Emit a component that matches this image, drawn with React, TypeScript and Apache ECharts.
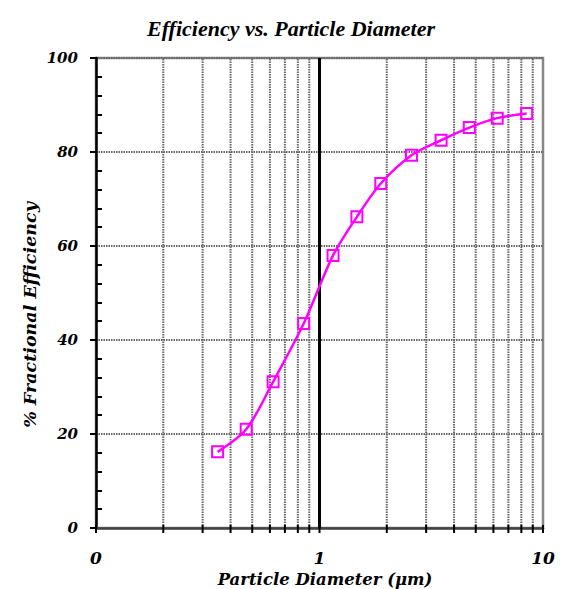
import React, { useEffect, useRef } from "react";
import * as echarts from "echarts";

const diameters = [0.35, 0.47, 0.62, 0.85, 1.15, 1.47, 1.88, 2.58, 3.5, 4.68, 6.24, 8.45];
const efficiency = [16.2, 21.0, 31.1, 43.5, 58.0, 66.2, 73.3, 79.3, 82.5, 85.2, 87.2, 88.2];
const logGridValues = [0.1, 0.2, 0.3, 0.4, 0.5, 0.6, 0.7, 0.8, 0.9, 1, 2, 3, 4, 5, 6, 7, 8, 9, 10];
const xTickLabels: Record<string, string> = { "0.1": "0", "1": "1", "10": "10" };

const TITLE = "Efficiency vs. Particle Diameter";
const X_NAME = "Particle Diameter (\u03bcm)";
const Y_NAME = "% Fractional Efficiency";

export default function App() {
  const ref = useRef<HTMLDivElement>(null);
  useEffect(() => {
    if (!ref.current) return;
    const chart = echarts.init(ref.current, null, { renderer: "svg" });
    const labelFont = "DejaVu Serif";
    chart.setOption({
      animation: false,
      backgroundColor: "#ffffff",
      title: {
        text: TITLE,
        left: 286,
        top: 12,
        textAlign: "center",
        textStyle: {
          fontFamily: "Liberation Serif",
          fontStyle: "italic",
          fontWeight: "bold",
          fontSize: 22,
          color: "#000",
        },
      },
      grid: {
        left: 96,
        right: 26,
        top: 58,
        bottom: 61,
        containLabel: false,
        outerBoundsMode: "none",
        show: true,
        borderColor: "#888",
        borderWidth: 2.5,
        backgroundColor: "transparent",
      },
      xAxis: {
        type: "log",
        logBase: 10,
        min: 0.1,
        max: 10,
        axisLine: { show: true, lineStyle: { color: "#444", width: 2.5 } },
        axisTick: { show: false },
        splitLine: { show: false },
        axisLabel: {
          margin: 21,
          fontFamily: labelFont,
          fontStyle: "italic",
          fontWeight: "bold",
          fontSize: 17,
          color: "#000",
          formatter: (v: number) => xTickLabels[String(v)] ?? "",
        },
      },
      yAxis: [
        {
          type: "value",
          min: 0,
          max: 100,
          interval: 20,
          axisLine: { show: true, lineStyle: { color: "#000", width: 2.5 } },
          axisTick: { show: true, length: 6, lineStyle: { color: "#000", width: 2 } },
          axisLabel: {
            margin: 18,
            fontFamily: labelFont,
            fontStyle: "italic",
            fontWeight: "bold",
            fontSize: 15,
            color: "#000",
          },
          splitLine: {
            show: true,
            lineStyle: { color: "#666", width: 2, type: [1.5, 1] },
          },
        },
        {
          type: "value",
          position: "left",
          min: 0,
          max: 100,
          interval: 20,
          axisLine: { show: false },
          axisLabel: { show: false },
          axisTick: { show: false, inside: true },
          minorTick: { show: true, splitNumber: 5, length: 6, lineStyle: { color: "#000", width: 2 } },
          splitLine: { show: false },
        },
      ],
      graphic: [
        {
          type: "text",
          x: 30,
          y: 315,
          rotation: Math.PI / 2,
          style: {
            text: Y_NAME,
            textAlign: "center",
            textVerticalAlign: "middle",
            fontFamily: labelFont,
            fontStyle: "italic",
            fontWeight: "bold",
            fontSize: 17.5,
            fill: "#000",
          },
        },
        {
          type: "text",
          x: 325,
          y: 579,
          style: {
            text: X_NAME,
            textAlign: "center",
            textVerticalAlign: "middle",
            fontFamily: labelFont,
            fontStyle: "italic",
            fontWeight: "bold",
            fontSize: 16.5,
            fill: "#000",
          },
        },
      ],
      series: [
        {
          type: "custom",
          silent: true,
          z: 1,
          data: logGridValues.map((v) => [v, 0]),
          renderItem: (params: any, api: any) => {
            const x = api.value(0);
            const bot = api.coord([x, 0]);
            const top = api.coord([x, 100]);
            const children: any[] = [];
            const isEdge = x === 0.1 || x === 10;
            if (!isEdge) {
              const main = x === 1;
              children.push({
                type: "line",
                shape: { x1: bot[0], y1: bot[1], x2: top[0], y2: top[1] },
                style: main
                  ? { stroke: "#000", lineWidth: 3 }
                  : { stroke: "#666", lineWidth: 2, lineDash: [1.5, 1] },
              });
            }
            children.push({
              type: "line",
              shape: { x1: bot[0], y1: bot[1] - 3, x2: bot[0], y2: bot[1] + 5 },
              style: { stroke: "#000", lineWidth: 2 },
            });
            return { type: "group", children };
          },
        },
        {
          type: "line",
          z: 3,
          data: diameters.map((d, i) => [d, efficiency[i]]),
          smooth: 0.3,
          symbol: "rect",
          symbolSize: 11,
          lineStyle: { color: "#ff00ff", width: 2.5 },
          itemStyle: { color: "transparent", borderColor: "#ff00ff", borderWidth: 2 },
        },
      ],
    });
    return () => chart.dispose();
  }, []);
  return (
    <div
      ref={ref}
      style={{ position: "absolute", left: 0, top: 0, width: 569, height: 589 }}
    />
  );
}
